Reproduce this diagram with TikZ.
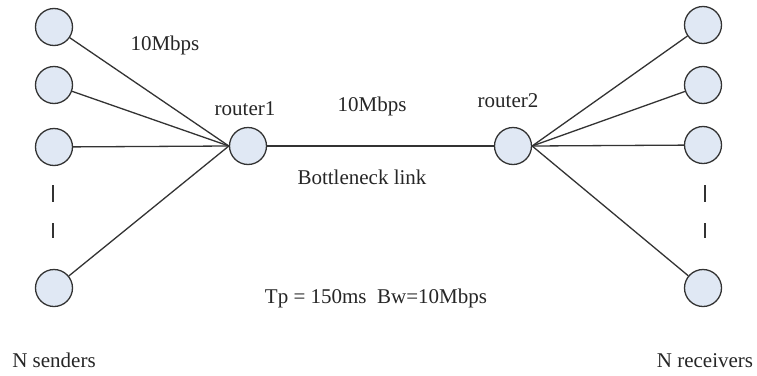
\documentclass[tikz,border=0pt]{standalone}
\usepackage{fontspec}
\setmainfont{Liberation Serif}
\definecolor{hostfill}{RGB}{224,232,244}
\begin{document}
\begin{tikzpicture}[x=1pt,y=-1pt,
  host/.style={circle,draw=black!80,line width=1.3pt,fill=hostfill,minimum size=37pt,inner sep=0pt},
  link/.style={draw=black!80,line width=1.3pt},
  gap/.style={draw=black!80,line width=2.2pt},
  lbl/.style={font=\fontsize{21}{25}\selectfont,anchor=base,inner sep=0pt,text=black!85}]
\fill[white] (0,0) rectangle (757,375);
\useasboundingbox (0,0) rectangle (757,375);
% senders
\node[host] (s1) at (54,27) {};
\node[host] (s2) at (54,85) {};
\node[host] (s3) at (54,147) {};
\node[host] (s4) at (54,288) {};
% routers
\node[host] (r1) at (248,146) {};
\node[host] (r2) at (513,146) {};
% receivers
\node[host] (d1) at (703,25) {};
\node[host] (d2) at (703,85) {};
\node[host] (d3) at (703,145) {};
\node[host] (d4) at (703,288) {};
% links
\foreach \s in {s1,s2,s3,s4} \draw[link] (\s) -- (r1.west);
\foreach \d in {d1,d2,d3,d4} \draw[link] (r2.east) -- (\d);
\draw[link] (r1) -- (r2);
% ellipsis dashes
\coordinate (ga1) at (53,185); \coordinate (gb1) at (53,202);
\coordinate (ga2) at (53,223); \coordinate (gb2) at (53,238);
\coordinate (ha1) at (705,185); \coordinate (hb1) at (705,202);
\coordinate (ha2) at (705,223); \coordinate (hb2) at (705,238);
\draw[gap] (ga1) -- (gb1);
\draw[gap] (ga2) -- (gb2);
\draw[gap] (ha1) -- (hb1);
\draw[gap] (ha2) -- (hb2);
% labels
\node[lbl] (t1) at (165,50) {10Mbps};
\node[lbl] (t2) at (245,115) {router1};
\node[lbl] (t3) at (372,111) {10Mbps};
\node[lbl] (t4) at (508,107) {router2};
\node[lbl] (t5) at (362,184) {Bottleneck link};
\node[lbl] (t6) at (376,303) {Tp = 150ms\ \ Bw=10Mbps};
\node[lbl] (t7) at (54,367) {N senders};
\node[lbl] (t8) at (705,367) {N receivers};
\end{tikzpicture}
\end{document}
